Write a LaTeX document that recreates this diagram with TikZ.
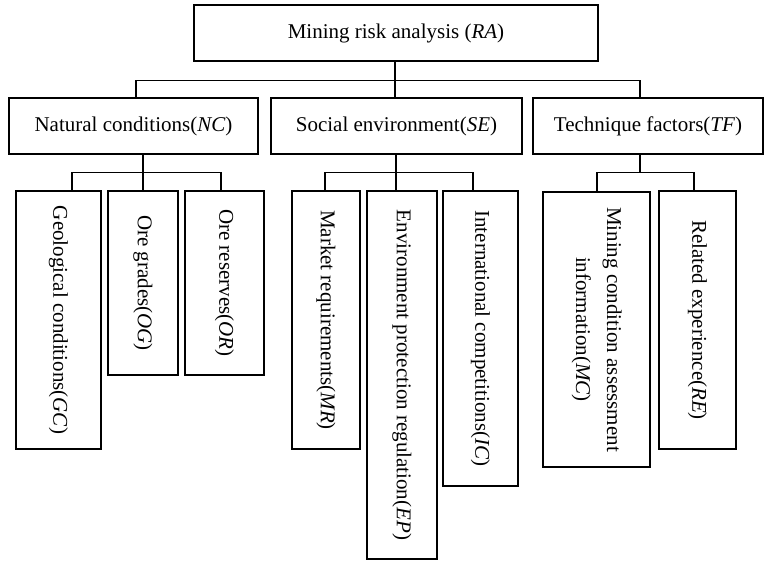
\documentclass[tikz,border=0pt]{standalone}
\usepackage{fontspec}
\setmainfont{Liberation Serif}
\usepackage{graphicx}

\begin{document}
\begin{tikzpicture}[x=1pt, y=-1pt, line width=1.4pt]
  % Stili dei riquadri
  \tikzset{
    box/.style={draw, rectangle, inner sep=0pt, font=\fontsize{21}{25}\selectfont},
    livello/.style={box, minimum height=56pt},
  }
  \useasboundingbox (0,0) rectangle (765,560);

  % Radice
  \node[livello, minimum width=404pt] (RA) at (396,33) {Mining risk analysis (\textit{RA})};

  % Fattori principali
  \node[livello, minimum width=249pt] (NC) at (133.5,126) {Natural conditions(\textit{NC})};
  \node[livello, minimum width=251pt] (SE) at (396.5,126) {Social environment(\textit{SE})};
  \node[livello, minimum width=230pt] (TF) at (648,126)   {Technique factors(\textit{TF})};

  % Sottofattori (testo verticale)
  \node[box, minimum width=85pt,  minimum height=258pt] (GC) at (58.5,320)  {\rotatebox{-90}{Geological conditions(\textit{GC})}};
  \node[box, minimum width=70pt,  minimum height=184pt] (OG) at (143,283)   {\rotatebox{-90}{Ore grades(\textit{OG})}};
  \node[box, minimum width=79pt,  minimum height=184pt] (OR) at (224.5,283) {\rotatebox{-90}{Ore reserves(\textit{OR})}};
  \node[box, minimum width=68pt,  minimum height=258pt] (MR) at (326,320)   {\rotatebox{-90}{Market requirements(\textit{MR})}};
  \node[box, minimum width=70pt,  minimum height=368pt] (EP) at (402,375)   {\rotatebox{-90}{Environment protection regulation(\textit{EP})}};
  \node[box, minimum width=75pt,  minimum height=295pt] (IC) at (480.5,338.5) {\rotatebox{-90}{International competitions(\textit{IC})}};
  \node[box, minimum width=107pt, minimum height=275pt] (MC) at (596.5,329.5)
    {\rotatebox{-90}{\begin{tabular}{@{}c@{}}Mining condition assessment\\[6pt]information(\textit{MC})\end{tabular}}};
  \node[box, minimum width=77pt,  minimum height=258pt] (RE) at (697.5,320) {\rotatebox{-90}{Related experience(\textit{RE})}};

  % Collegamenti (con piccoli spostamenti dei punti d'attacco)
  \foreach \f/\d in {NC/2.5,SE/-1.5,TF/-8}
    \draw ([xshift=-1pt]RA.south) -- ++(0,19) -| ([xshift=\d pt]\f.north);
  \foreach \f/\d in {GC/13.5,OG/0,OR/-3.5}
    \draw ([xshift=9.5pt]NC.south) -- ++(0,18) -| ([xshift=\d pt]\f.north);
  \foreach \f/\d in {MR/-1,EP/-6,IC/-7.5}
    \draw ([xshift=-0.5pt]SE.south) -- ++(0,18) -| ([xshift=\d pt]\f.north);
  \foreach \f/\d in {MC/0.5,RE/-3.5}
    \draw ([xshift=-8pt]TF.south) -- ++(0,18) -| ([xshift=\d pt]\f.north);
\end{tikzpicture}
\end{document}
